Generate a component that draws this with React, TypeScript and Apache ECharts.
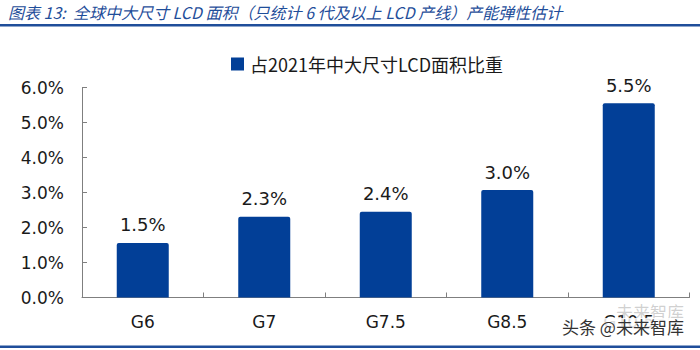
import React, { useEffect, useRef } from "react";
import * as echarts from "echarts";

const categories = ["G6", "G7", "G7.5", "G8.5", "G10.5"];
const values = [1.56, 2.31, 2.45, 3.07, 5.55];
const valueLabels = ["1.5%", "2.3%", "2.4%", "3.0%", "5.5%"];
const seriesName = "占2021年中大尺寸LCD面积比重";
const yTicks = [0, 1, 2, 3, 4, 5, 6];
const titleText = "图表 13:  全球中大尺寸 LCD 面积（只统计 6 代及以上 LCD 产线）产能弹性估计";
const watermark = "头条 @未来智库";
const watermarkFaint = "未来智库";

const BLUE = "#023F97";
const LINE_BLUE = "#1F4E9A";
const FONT = "'DejaVu Sans', 'Noto Sans CJK SC', sans-serif";
const CJK = "'Noto Sans CJK SC', sans-serif";

export default function App() {
  const ref = useRef<HTMLDivElement>(null);
  useEffect(() => {
    if (!ref.current) return;
    const chart = echarts.init(ref.current, undefined, { renderer: "svg" });
    chart.setOption({
      animation: false,
      backgroundColor: "#ffffff",
      grid: { left: 82, right: 10.5, top: 87.5, bottom: 52.5, containLabel: false },
      legend: {
        data: [seriesName],
        left: 226,
        top: 50,
        itemWidth: 13,
        itemHeight: 13,
        itemGap: 6,
        icon: "rect",
        textStyle: { fontFamily: CJK, fontSize: 18, color: "#1a1a1a", padding: [0, 0, 0, 1] },
      },
      xAxis: {
        type: "category",
        data: categories,
        axisLine: { lineStyle: { color: "#7f7f7f", width: 1 } },
        axisTick: { show: true, inside: true, length: 5, alignWithLabel: false, lineStyle: { color: "#7f7f7f" } },
        axisLabel: { fontFamily: FONT, fontSize: 17, color: "#1a1a1a", margin: 16 },
      },
      yAxis: {
        type: "value",
        min: yTicks[0],
        max: yTicks[yTicks.length - 1],
        interval: 1,
        splitLine: { show: false },
        axisLine: { show: true, lineStyle: { color: "#7f7f7f", width: 1 } },
        axisTick: { show: true, inside: true, length: 5, lineStyle: { color: "#7f7f7f" } },
        axisLabel: {
          fontFamily: FONT,
          fontSize: 17,
          color: "#1a1a1a",
          margin: 18,
          formatter: (v: number) => v.toFixed(1) + "%",
        },
      },
      series: [
        {
          name: seriesName,
          type: "bar",
          data: values,
          barWidth: 52,
          itemStyle: { color: BLUE, borderRadius: [2, 2, 0, 0] },
          label: {
            show: true,
            position: "top",
            distance: 9,
            fontFamily: FONT,
            fontSize: 18,
            color: "#1a1a1a",
            formatter: (p: any) => valueLabels[p.dataIndex],
          },
        },
      ],
      graphic: [
        {
          type: "text",
          left: 8,
          top: 4,
          style: {
            text: titleText,
            fontFamily: CJK,
            fontSize: 16,
            fontStyle: "italic",
            fill: LINE_BLUE,
          },
        },
        { type: "rect", shape: { x: 0, y: 24, width: 700, height: 2.5 }, style: { fill: LINE_BLUE } },
        { type: "rect", shape: { x: 0, y: 345.5, width: 700, height: 2.5 }, style: { fill: LINE_BLUE } },
        {
          type: "text",
          left: 616,
          top: 303,
          z: 100,
          style: { text: watermarkFaint, fontFamily: CJK, fontSize: 17, fill: "rgba(120,120,120,0.35)" },
        },
        {
          type: "text",
          left: 562,
          top: 318,
          z: 101,
          style: {
            text: watermark,
            fontFamily: CJK,
            fontSize: 17,
            fill: "#333333",
            backgroundColor: "rgba(255,255,255,0.85)",
          },
        },
      ],
    });
    return () => chart.dispose();
  }, []);
  return <div ref={ref} style={{ position: "fixed", left: 0, top: 0, width: 700, height: 350 }} />;
}
